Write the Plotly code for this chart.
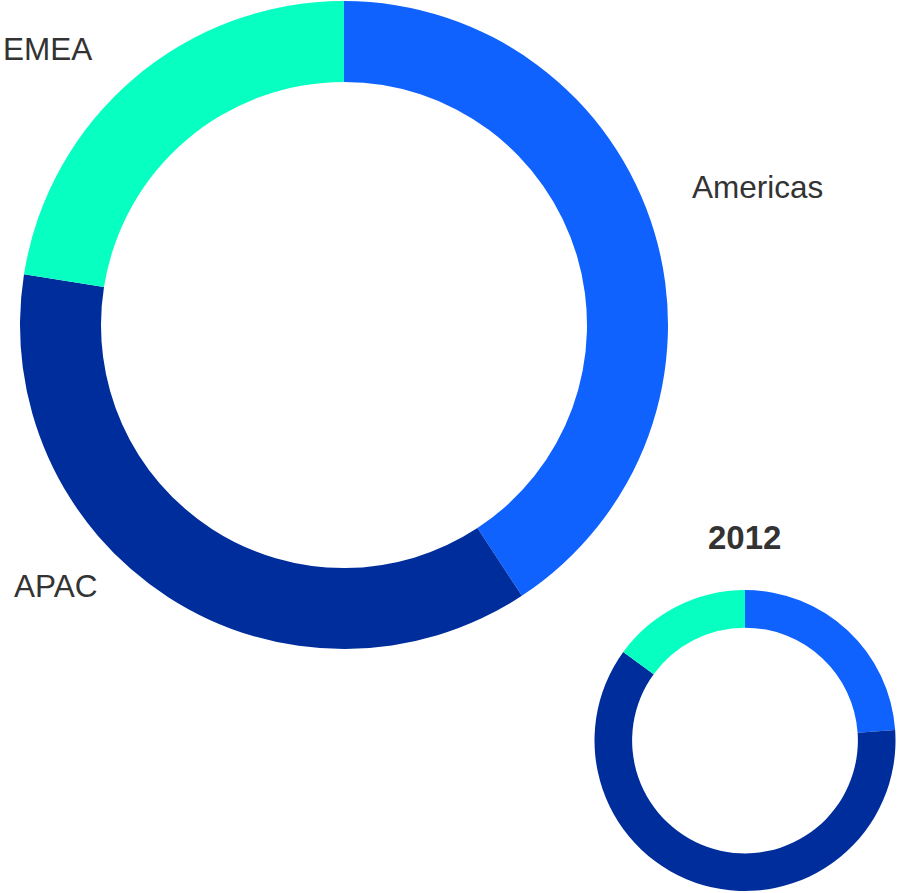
import plotly.graph_objects as go

regions = ["Americas", "APAC", "EMEA"]
values_main = [40.75, 36.75, 22.5]
values_2012 = [23.9, 61.1, 15.0]
colors = ["#0f62fe", "#002d9c", "#07ffc1"]
title_small = "2012"

W, H = 897, 893
FONT = "Liberation Sans, Arial, sans-serif"

fig = go.Figure()
fig.add_trace(go.Pie(
    labels=regions, values=values_main, hole=0.75, sort=False,
    direction="clockwise", rotation=0, textinfo="none",
    marker=dict(colors=colors, line=dict(width=0)),
    domain=dict(x=[20 / W, 668 / W], y=[1 - 649 / H, 1 - 1 / H]),
    showlegend=False,
))
fig.add_trace(go.Pie(
    labels=regions, values=values_2012, hole=0.75, sort=False,
    direction="clockwise", rotation=0, textinfo="none",
    marker=dict(colors=colors, line=dict(width=0)),
    domain=dict(x=[594.5 / W, 895.5 / W], y=[1 - 891 / H, 1 - 590 / H]),
    showlegend=False,
))

label_pos = {"Americas": (690, 187), "EMEA": (1, 49), "APAC": (12, 586)}
annotations = []
for name in regions:
    px, py = label_pos[name]
    annotations.append(dict(
        text=name, x=px / W, y=1 - py / H, xref="paper", yref="paper",
        xanchor="left", yanchor="middle", showarrow=False,
        font=dict(family=FONT, size=31.5, color="#333333"),
    ))
annotations.append(dict(
    text="<b>%s</b>" % title_small, x=744 / W, y=1 - 537 / H,
    xref="paper", yref="paper", xanchor="center", yanchor="middle",
    showarrow=False, font=dict(family=FONT, size=33, color="#333333"),
))

fig.update_layout(
    width=W, height=H, margin=dict(l=0, r=0, t=0, b=0),
    paper_bgcolor="white", plot_bgcolor="white",
    annotations=annotations, showlegend=False,
)
fig.write_html("out.html", config={"displayModeBar": False},
               post_script="document.body.style.margin='0';document.body.style.overflow='hidden';")
